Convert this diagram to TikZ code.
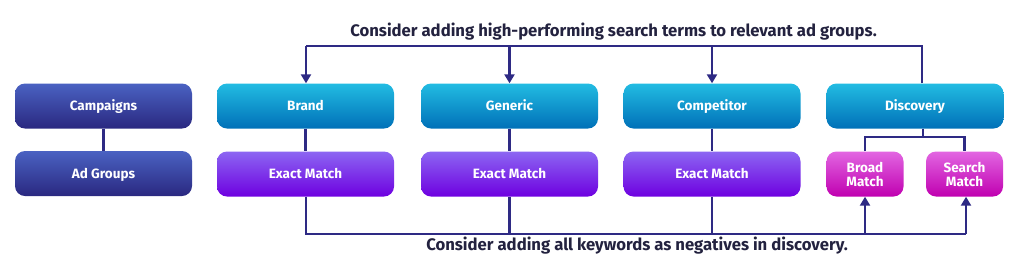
\documentclass[tikz,border=0pt]{standalone}
\usepackage{fontspec}
\setmainfont{Fira Sans}
\usetikzlibrary{arrows.meta}
\definecolor{linec}{HTML}{2E2A84}
\definecolor{txtc}{HTML}{23223F}
\definecolor{campT}{HTML}{4A62C2}
\definecolor{campB}{HTML}{2A2880}
\definecolor{blueT}{HTML}{22BCE2}
\definecolor{blueB}{HTML}{0070B8}
\definecolor{purpT}{HTML}{8C66F2}
\definecolor{purpB}{HTML}{6E00E0}
\definecolor{magT}{HTML}{E266E2}
\definecolor{magB}{HTML}{C000B0}
\tikzset{
  box/.style={rounded corners=10pt, minimum height=45pt, text=white,
    font=\fontsize{13.5}{15}\selectfont\bfseries, align=center, inner sep=0pt},
  wide/.style={box, minimum width=177pt, text height=11pt, text depth=1.7pt},
  narrow/.style={box, minimum width=77pt},
  camp/.style={top color=campT, bottom color=campB},
  blu/.style={top color=blueT, bottom color=blueB},
  purp/.style={top color=purpT, bottom color=purpB},
  mag/.style={top color=magT, bottom color=magB},
  conn/.style={draw=linec, line width=2.2pt},
  arr/.style={conn, -{Triangle[length=9pt,width=10pt]}},
  note/.style={text=txtc, font=\fontsize{16.7}{19}\selectfont\bfseries, inner sep=0pt}
}
\begin{document}
\begin{tikzpicture}[x=1pt,y=-1pt]
\useasboundingbox (0,0) rectangle (1024,277);
% nodes
\node[wide,camp] (camp) at (103.5,106) {Campaigns};
\node[wide,camp] (adg) at (103.5,173.5) {Ad Groups};
\node[wide,blu] (brand) at (305.5,106) {Brand};
\node[wide,blu] (gen) at (509.5,106) {Generic};
\node[wide,blu] (comp) at (712,106) {Competitor};
\node[wide,blu] (disc) at (915,106) {Discovery};
\node[wide,purp] (ex1) at (305.5,174) {Exact Match};
\node[wide,purp] (ex2) at (509.5,174) {Exact Match};
\node[wide,purp] (ex3) at (712,174) {Exact Match};
\node[narrow,mag] (broad) at (865,174) {Broad\\[-1pt]Match};
\node[narrow,mag] (search) at (964.5,174) {Search\\[-1pt]Match};
% texts
\node[note] (top) at (613.5,32) {Consider adding high-performing search terms to relevant ad groups.};
\node[note] (bot) at (637,246) {Consider adding all keywords as negatives in discovery.};
% coordinates
\coordinate (tl) at (306,46);
\coordinate (tr) at (922,46);
\coordinate (bl) at (306,234);
\coordinate (br) at (966,234);
\coordinate (dj) at (923,137);
% vertical links
\draw[conn] (camp) -- (adg);
\draw[conn] (brand) -- (ex1);
\draw[conn] (gen) -- (ex2);
\draw[conn] (comp) -- (ex3);
% top feedback
\draw[conn] (disc.north -| tr) -- (tr) -- (tl);
\draw[arr] (tl) -- (brand.north -| tl);
\draw[arr] (gen.north |- tl) -- (gen.north);
\draw[arr] (comp.north |- tl) -- (comp.north);
% discovery split
\draw[conn] (disc.south -| dj) -- (dj);
\draw[conn] (broad.north) -- (broad.north |- dj) -- (search.north |- dj) -- (search.north);
% bottom feedback
\draw[conn] (ex1.south -| bl) -- (bl) -- (br);
\draw[conn] (ex2.south) -- (ex2.south |- bl);
\draw[conn] (ex3.south) -- (ex3.south |- bl);
\draw[arr] (broad.south |- bl) -- (broad.south);
\draw[arr] (br) -- (search.south -| br);
\end{tikzpicture}
\end{document}
